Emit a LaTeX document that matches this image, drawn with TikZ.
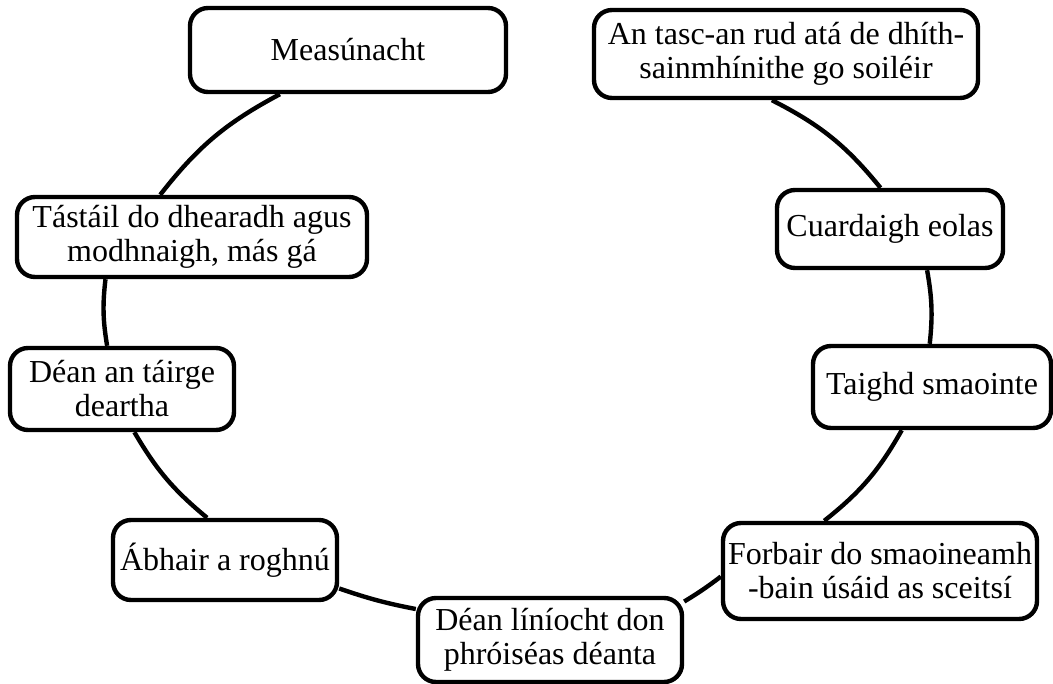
\documentclass[tikz,border=0pt]{standalone}
\usepackage{fontspec}
\setmainfont{Liberation Serif}
\begin{document}
\begin{tikzpicture}[x=0.5pt,y=-0.5pt,
    box/.style={draw, line width=2.2pt, rounded corners=9pt, fill=white, align=center, inner sep=2pt, font=\fontsize{16}{17}\selectfont},
    link/.style={line width=2.2pt}]
    \useasboundingbox (0,0) rectangle (1053,684);
    \node[box, minimum width=158pt, minimum height=42pt] (meas) at (348,50) {Measúnacht};
    \node[box, minimum width=192pt, minimum height=44pt] (tasc) at (786,54) {An tasc-an rud atá de dhíth-\\sainmhínithe go soiléir};
    \node[box, minimum width=113pt, minimum height=39pt] (cuard) at (890,229) {Cuardaigh eolas};
    \node[box, minimum width=119pt, minimum height=41pt] (taighd) at (932,387) {Taighd smaointe};
    \node[box, minimum width=157pt, minimum height=48pt] (forbair) at (880,571) {Forbair do smaoineamh\\-bain úsáid as sceitsí};
    \node[box, minimum width=132pt, minimum height=42pt] (deanlin) at (550,640) {Déan líníocht don\\phróiséas déanta};
    \node[box, minimum width=112pt, minimum height=40pt] (abhair) at (225,560) {Ábhair a roghnú};
    \node[box, minimum width=112pt, minimum height=41pt] (tairge) at (122,389) {Déan an táirge\\deartha};
    \node[box, minimum width=175pt, minimum height=40pt] (tastail) at (192,237) {Tástáil do dhearadh agus\\modhnaigh, más gá};
    \draw[link] (meas.213) to[bend right=12] (tastail.127);
    \draw[link] (tastail.206) to[bend right=8] (tairge.109);
    \draw[link] (tairge.286) to[bend right=10] (abhair.113);
    \draw[link] (abhair.346) to[bend right=4] (deanlin.167);
    \draw[link] (deanlin.16) to[bend right=3] (forbair.182);
    \draw[link] (forbair.138) to[bend right=11] (taighd.235);
    \draw[link] (taighd.93) to[bend right=8] (cuard.312);
    \draw[link] (cuard.103) to[bend right=12] (tasc.253);
\end{tikzpicture}
\end{document}
